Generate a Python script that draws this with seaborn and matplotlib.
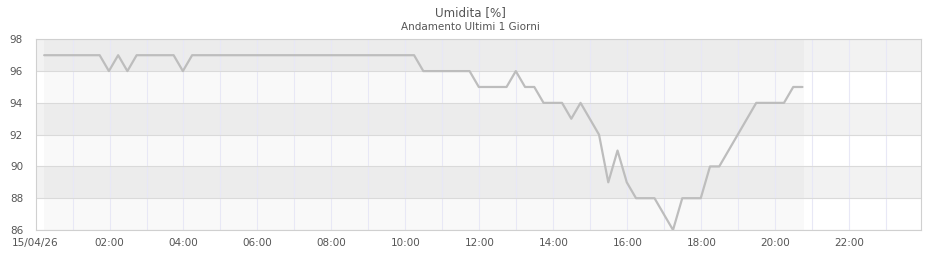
import matplotlib
matplotlib.use("Agg")
import matplotlib.pyplot as plt
import seaborn as sns
import pandas as pd
import numpy as np

# ---- data ----
title = "Umidita [%]"
subtitle = "Andamento Ultimi 1 Giorni"
start_time = "2026-04-15 00:14"
step = "15min"
humidity = [97, 97, 97, 97, 97, 97, 97, 96, 97, 96,
            97, 97, 97, 97, 97, 96, 97, 97, 97, 97,
            97, 97, 97, 97, 97, 97, 97, 97, 97, 97,
            97, 97, 97, 97, 97, 97, 97, 97, 97, 97,
            97, 96, 96, 96, 96, 96, 96, 95, 95, 95,
            95, 96, 95, 95, 94, 94, 94, 93, 94, 93,
            92, 89, 91, 89, 88, 88, 88, 87, 86, 88,
            88, 88, 90, 90, 91, 92, 93, 94, 94, 94,
            94, 95, 95]
y_ticks = [86, 88, 90, 92, 94, 96, 98]
x_tick_hours = [0, 2, 4, 6, 8, 10, 12, 14, 16, 18, 20, 22]
x_tick_labels = ["15/04/26", "02:00", "04:00", "06:00", "08:00", "10:00",
                 "12:00", "14:00", "16:00", "18:00", "20:00", "22:00"]

times = pd.date_range(start_time, periods=len(humidity), freq=step)
day0 = pd.Timestamp("2026-04-15 00:00")
df = pd.DataFrame({"hour": (times - day0) / pd.Timedelta(hours=1),
                   "value": humidity})

sns.set_style("white")
plt.rcParams['font.family'] = ['DejaVu Sans']

fig = plt.figure(figsize=(9.4, 2.6), dpi=100)
ax = fig.add_axes([0.0378, 0.1154, 0.9417, 0.7334])

x_max = 23.93
ax.set_xlim(0, x_max)
ax.set_ylim(86, 98)

# alternating bands
for i, (lo, hi) in enumerate(zip(y_ticks[:-1], y_ticks[1:])):
    col = "#ffffff" if i % 2 == 0 else "#f2f2f2"
    ax.axhspan(lo, hi, color=col, lw=0, zorder=0)

# data span shading
ax.axvspan(df["hour"].iloc[0], df["hour"].iloc[-1] + 0.03, color="black",
           alpha=0.025, lw=0, zorder=0.5)

# grid
for h in range(1, 24):
    ax.axvline(h, color="#e8e8f6", lw=0.8, zorder=1)
for y in y_ticks:
    ax.axhline(y, color="#dadada", lw=0.8, zorder=1)

sns.lineplot(data=df, x="hour", y="value", ax=ax, color="#bdbdbd",
             lw=1.6, zorder=3)

ax.set_xticks(x_tick_hours)
ax.set_xticklabels(x_tick_labels)
ax.set_yticks(y_ticks)
ax.tick_params(axis="both", length=0, labelsize=7.5, colors="#555555")
ax.tick_params(axis="x", pad=6)
ax.tick_params(axis="y", pad=9)
ax.set_xlabel("")
ax.set_ylabel("")
for s in ax.spines.values():
    s.set_color("#d0d0d0")
    s.set_linewidth(0.8)

fig.text(0.5, 0.953, title, ha="center", va="center", fontsize=8.6,
         color="#555555")
fig.text(0.5, 0.896, subtitle, ha="center", va="center", fontsize=7.5,
         color="#555555")

fig.savefig("out.png", dpi=100)
